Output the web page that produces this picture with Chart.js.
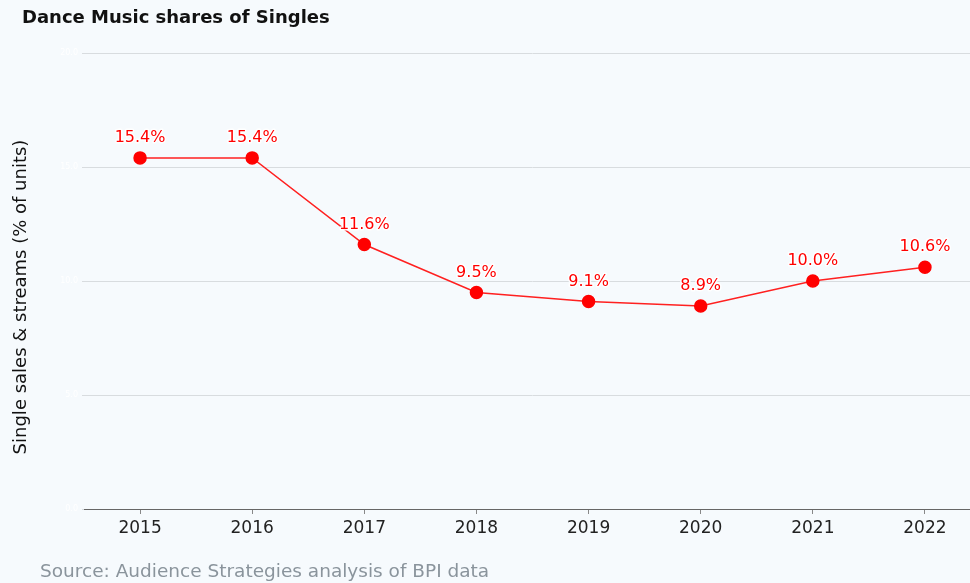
<!DOCTYPE html>
<html><head><meta charset="utf-8">
<script src="https://cdn.jsdelivr.net/npm/chart.js@4.4.1/dist/chart.umd.min.js"></script>
<style>
html,body{margin:0;padding:0;background:#f6fafd;overflow:hidden;width:970px;height:583px;}
#wrap{position:absolute;left:0;top:0;width:990px;height:583px;}
</style></head>
<body><div id="wrap"><canvas id="c" width="990" height="583"></canvas></div>
<script>
const years = ["2015","2016","2017","2018","2019","2020","2021","2022"];
const danceShare = [15.4, 15.4, 11.6, 9.5, 9.1, 8.9, 10.0, 10.6];
const yTicks = [0, 5, 10, 15, 20];
const chartTitle = "Dance Music shares of Singles";
const yTitle = "Single sales & streams (% of units)";
const sourceNote = "Source: Audience Strategies analysis of BPI data";

const textPlugin = {
  id: 'texts',
  afterDraw(chart) {
    const ctx = chart.ctx;
    ctx.save();
    ctx.fillStyle = '#111';
    ctx.font = 'bold 18px "DejaVu Sans"';
    ctx.textBaseline = 'middle';
    ctx.textAlign = 'left';
    ctx.fillText(chartTitle, 22, 18);
    ctx.fillStyle = '#8a949c';
    ctx.font = '18.5px "DejaVu Sans"';
    ctx.fillText(sourceNote, 40, 572);
    ctx.translate(21, 297);
    ctx.rotate(-Math.PI / 2);
    ctx.textAlign = 'center';
    ctx.fillStyle = '#111';
    ctx.font = '18px "DejaVu Sans"';
    ctx.fillText(yTitle, 0, 0);
    ctx.restore();
    // data labels
    const meta = chart.getDatasetMeta(0);
    ctx.save();
    ctx.font = '16px "DejaVu Sans"';
    ctx.textAlign = 'center';
    ctx.textBaseline = 'middle';
    ctx.lineJoin = 'round';
    meta.data.forEach((pt, i) => {
      const t = danceShare[i].toFixed(1) + '%';
      ctx.strokeStyle = 'rgba(255,255,255,0.9)';
      ctx.lineWidth = 3;
      ctx.strokeText(t, pt.x, pt.y - 20);
      ctx.fillStyle = '#ff0000';
      ctx.fillText(t, pt.x, pt.y - 20);
    });
    ctx.restore();
  }
};

new Chart(document.getElementById('c'), {
  type: 'line',
  data: {
    labels: years,
    datasets: [{
      data: danceShare,
      borderColor: '#ff2020',
      backgroundColor: '#ff0000',
      pointBackgroundColor: '#ff0000',
      pointBorderColor: '#ff0000',
      borderWidth: 1.5,
      pointRadius: 6,
      tension: 0
    }]
  },
  options: {
    responsive: false,
    animation: false,
    layout: { padding: { top: 53, left: 0, right: 9, bottom: 34 } },
    plugins: { legend: { display: false }, tooltip: { enabled: false } },
    scales: {
      x: {
        offset: true,
        grid: { display: true, drawOnChartArea: false, drawTicks: true, tickLength: 5, color: '#888' },
        border: { display: true, color: '#666', width: 1 },
        ticks: { color: '#222', font: { family: 'DejaVu Sans', size: 17 }, padding: 4 },
        afterFit(s) { s.height = 40; }
      },
      y: {
        min: 0, max: 20,
        afterBuildTicks(s) { s.ticks = yTicks.map(v => ({ value: v })); },
        grid: { color: '#d8dcdf', tickLength: 2 },
        border: { display: false },
        ticks: { color: '#ffffff', font: { family: 'DejaVu Sans', size: 8 }, padding: 4,
          callback: v => v.toFixed(1) },
        afterFit(s) { s.width = 84; }
      }
    }
  },
  plugins: [textPlugin]
});
</script></body></html>
